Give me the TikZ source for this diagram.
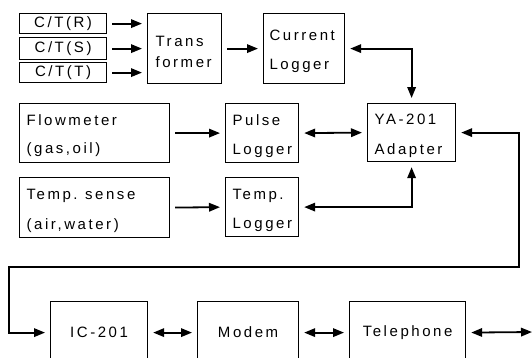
\documentclass[tikz,border=0pt]{standalone}
\usepackage{fontspec}
\setmainfont[LetterSpace=17]{Liberation Sans}
\usetikzlibrary{arrows.meta}
\newcommand{\topfill}{\rule{0pt}{16.5pt}}
\begin{document}
\begin{tikzpicture}[x=1pt,y=-1pt,
  box/.style={draw, line width=1.2pt, inner sep=0pt, font=\fontsize{15}{18}\selectfont},
  lbox/.style={box, align=left, inner xsep=7pt, anchor=north west},
  cbox/.style={box, align=center, anchor=north west},
  tip/.tip={Triangle[length=11pt,width=8.5pt]},
  arr/.style={line width=1.8pt, -tip, shorten >=5pt, shorten <=5pt},
  dbl/.style={line width=1.8pt, tip-tip, shorten >=5pt, shorten <=5pt}]
\clip (0,0) rectangle (532,357);
% top row
\node[cbox, minimum width=87pt, minimum height=20pt] (ctR) at (19,13) {C/T(R)};
\node[cbox, minimum width=87pt, minimum height=22pt] (ctS) at (19,37) {C/T(S)};
\node[cbox, minimum width=87pt, minimum height=20pt] (ctT) at (19,62) {C/T(T)};
\node[lbox, inner xsep=8pt, text width=58pt, minimum height=70pt] (trans) at (147,13) {\topfill Trans\\[3pt]former};
\node[lbox, inner xsep=6pt, text width=69pt, minimum height=70pt] (cur) at (263,13) {\topfill Current\\[11pt]Logger};
% middle rows
\node[lbox, text width=136pt, minimum height=59pt] (flow) at (19,103) {\topfill Flowmeter\\[10pt](gas,oil)};
\node[lbox, text width=59pt, minimum height=59pt] (pulse) at (225,103) {\topfill Pulse\\[11.5pt]Logger};
\node[lbox, text width=74pt, minimum height=58pt] (ya) at (367,103) {\topfill YA-201\\[12.5pt]Adapter};
\node[lbox, text width=136pt, minimum height=60pt] (temps) at (19,177) {\topfill Temp. sense\\[11.5pt](air,water)};
\node[lbox, text width=59pt, minimum height=59pt] (templog) at (225,177) {\topfill Temp.\\[11pt]Logger};
% bottom row
\node[cbox, minimum width=97pt, minimum height=62pt] (ic) at (50,301) {IC-201};
\node[cbox, minimum width=101pt, minimum height=62pt] (modem) at (197,301) {Modem};
\node[cbox, minimum width=116pt, minimum height=62pt] (tel) at (349,301) {Telephone};
% connectors
\draw[arr] (ctR.east) -- (ctR.east -| trans.west);
\draw[arr] (ctS.east) -- (ctS.east -| trans.west);
\draw[arr] (ctT.east) -- (ctT.east -| trans.west);
\draw[arr] (trans.east) -- (trans.east -| cur.west);
\draw[dbl] (cur.east) -| (ya.north);
\draw[arr] (flow.east) -- (pulse.west);
\draw[dbl] (pulse.east) -- (ya.west);
\draw[arr] (temps.east) -- (templog.west);
\draw[dbl] (templog.east) -| (ya.south);
\coordinate (r1) at (519,267);
\coordinate (l1) at (9,267);
\draw[dbl] (ya.east) -| (r1) -- (l1) |- (ic.west);
\draw[dbl] (ic.east) -- (modem.west);
\draw[dbl] (modem.east) -- (tel.west);
\coordinate (rend) at (532,332);
\draw[dbl, shorten >=0pt] (tel.east) -- (rend);
\end{tikzpicture}
\end{document}
